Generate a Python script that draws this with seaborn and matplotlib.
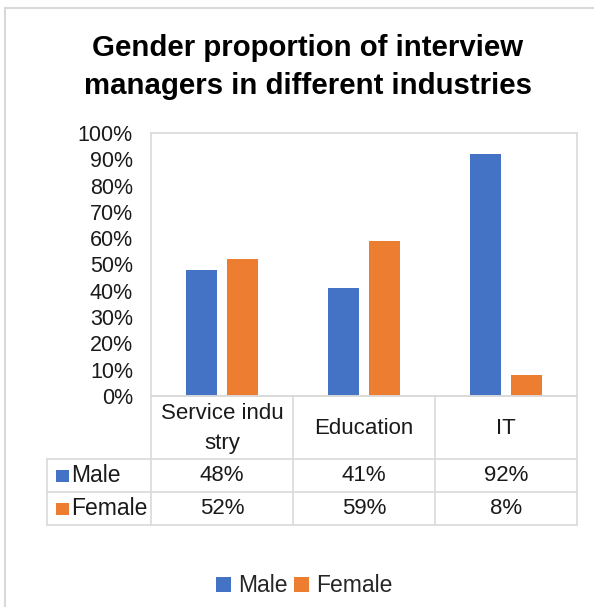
import matplotlib
matplotlib.use("Agg")
import matplotlib.pyplot as plt
import matplotlib.transforms as mtransforms
from matplotlib.patches import Rectangle
import seaborn as sns
import pandas as pd

# Survey shares by industry
categories = ["Service industry", "Education", "IT"]
header_labels = ["Service indu\nstry", "Education", "IT"]
series_names = ["Male", "Female"]
male = [0.48, 0.41, 0.92]
female = [0.52, 0.59, 0.08]
y_ticks = [0.0, 0.1, 0.2, 0.3, 0.4, 0.5, 0.6, 0.7, 0.8, 0.9, 1.0]

colors = {"Male": "#4472C4", "Female": "#ED7D31"}
grid_col = "#D9D9D9"

df = pd.DataFrame({
    "industry": categories * 2,
    "gender": ["Male"] * len(categories) + ["Female"] * len(categories),
    "share": male + female,
})

sns.set_theme(style="white")
plt.rcParams["font.family"] = ["Liberation Sans", "DejaVu Sans"]

W, H = 594, 607
fig = plt.figure(figsize=(W / 100, H / 100), dpi=100)


def fy(py):
    return 1 - py / H


# plot area in pixels: x 151..577, y 133..396
ax = fig.add_axes([151 / W, fy(396), 426 / W, 263 / H])
sns.barplot(data=df, x="industry", y="share", hue="gender",
            order=categories, hue_order=series_names, palette=colors,
            width=0.5775, gap=0.22, linewidth=0, saturation=1,
            ax=ax, legend=True)

ax.set_ylim(0, 1)
ax.set_xlim(-0.5, len(categories) - 0.5)
ax.set_yticks(y_ticks)
ax.set_yticklabels([f"{t:.0%}" for t in y_ticks], fontsize=15.5, color="#1a1a1a")
ax.tick_params(axis="y", length=0, pad=13)
ax.set_xticks(range(len(categories)))
ax.set_xticklabels([])
ax.tick_params(axis="x", length=0)
ax.set_xlabel("")
ax.set_ylabel("")
for s in ax.spines.values():
    s.set_color(grid_col)
    s.set_linewidth(1.2)

# Legend below the data table
handles, labels = ax.get_legend_handles_labels()
ax.get_legend().remove()
fig.legend(handles, labels, loc="center", bbox_to_anchor=(304 / W, fy(586)),
           ncol=2, frameon=False, fontsize=16.5, handlelength=0.65,
           handleheight=0.65, handletextpad=0.3, columnspacing=0.3)

# Data table under the axis: x in data coordinates, y in figure pixels
trans = mtransforms.blended_transform_factory(ax.transData, fig.transFigure)
x_left = -0.5
x_right = len(categories) - 0.5
row_top, row_male, row_female, row_bottom = 396, 459, 492, 525
lw = 1.2
# horizontal rules
ax.plot([x_left, x_right], [fy(row_top)] * 2, transform=trans, color=grid_col,
        lw=lw, clip_on=False)
for yy in (row_male, row_female, row_bottom):
    fig.add_artist(plt.Line2D([47 / W, 577 / W], [fy(yy)] * 2,
                              color=grid_col, lw=lw))
# vertical rules
fig.add_artist(plt.Line2D([47 / W, 47 / W], [fy(row_male), fy(row_bottom)],
                          color=grid_col, lw=lw))
for b in range(len(categories) + 1):
    ax.plot([b - 0.5, b - 0.5], [fy(row_top), fy(row_bottom)], transform=trans,
            color=grid_col, lw=lw, clip_on=False)

txt_col = "#1a1a1a"
for i, lab in enumerate(header_labels):
    ax.text(i, fy((row_top + row_male) / 2 + 1), lab, transform=trans, ha="center",
            va="center", fontsize=16, color=txt_col, linespacing=1.55)

for row_y, name, vals in ((row_male, "Male", male), (row_female, "Female", female)):
    cy = (row_y + (row_y + 33)) / 2
    for i, v in enumerate(vals):
        ax.text(i, fy(cy), f"{v:.0%}", transform=trans, ha="center",
                va="center", fontsize=16, color=txt_col)
    fig.add_artist(Rectangle((56 / W, fy(cy + 6)), 13 / W, 12 / H,
                             transform=fig.transFigure, color=colors[name], lw=0))
    fig.text(71 / W, fy(cy), name, ha="left", va="center", fontsize=16.5,
             color=txt_col)

# Title
fig.text(308 / W, fy(67), "Gender proportion of interview\nmanagers in different industries",
         ha="center", va="center", fontsize=21.2, fontweight="bold",
         color="#000000", linespacing=1.42)

# Chart frame
fig.add_artist(Rectangle((5 / W, -0.1), 1.2, fy(8) + 0.1, transform=fig.transFigure,
                         fill=False, edgecolor=grid_col, lw=1.5))

fig.savefig("out.png", dpi=100)
